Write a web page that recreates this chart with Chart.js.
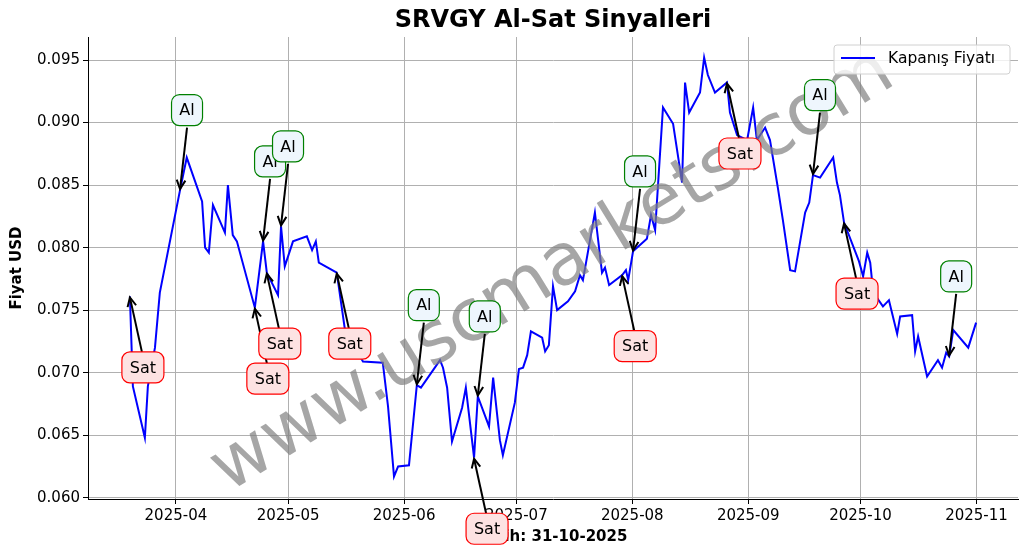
<!DOCTYPE html>
<html><head><meta charset="utf-8">
<script src="https://cdn.jsdelivr.net/npm/chart.js@4/dist/chart.umd.min.js"></script>
<style>html,body{margin:0;padding:0;background:#fff}#c{display:block}</style>
</head><body>
<canvas id="c" width="1028" height="554"></canvas>
<script>
// days since 2025-04-01
const days = [-12.3,-11.5,-8.3,-7.5,-5.6,-4.3,1.1,2.9,7.0,7.8,8.8,9.9,13.1,13.9,15.2,16.3,21.1,23.3,24.3,27.3,28.1,29.1,31.3,35.0,36.4,37.4,38.2,43.0,45.2,50.0,55.3,56.7,58.3,59.4,62.3,64.4,65.5,70.6,71.4,72.5,73.8,76.5,77.5,79.7,80.7,83.7,84.8,86.6,87.4,90.6,91.7,92.8,93.9,94.9,97.9,98.7,99.7,100.8,101.9,104.8,106.7,108.0,108.8,112.0,113.9,114.7,115.8,119.3,120.3,120.9,122.2,125.9,127.0,128.1,130.2,132.9,135.3,136.1,137.2,140.1,141.2,142.2,144.1,147.3,148.1,150.0,152.7,154.3,155.3,157.5,158.8,160.9,162.3,164.2,165.5,168.2,169.3,170.3,172.2,175.7,176.7,177.5,178.6,182.6,183.7,184.8,185.6,186.4,189.0,190.6,192.8,193.6,196.8,197.6,198.4,200.8,203.7,204.8,205.9,206.7,207.8,211.8,213.9];
const prices = [0.0761,0.0689,0.0648,0.0689,0.0720,0.0764,0.0846,0.0872,0.0837,0.0800,0.0796,0.0834,0.0812,0.0850,0.0810,0.0805,0.0752,0.0805,0.0780,0.0762,0.0817,0.0785,0.0805,0.0809,0.0798,0.0805,0.0788,0.0780,0.0734,0.0709,0.0708,0.0673,0.0617,0.0625,0.0626,0.0690,0.0688,0.0710,0.0704,0.0688,0.0645,0.0672,0.0688,0.0632,0.0681,0.0657,0.0696,0.0646,0.0634,0.0676,0.0703,0.0704,0.0714,0.0733,0.0728,0.0717,0.0722,0.0769,0.0750,0.0757,0.0765,0.0778,0.0774,0.0828,0.0780,0.0784,0.0770,0.0778,0.0782,0.0774,0.0797,0.0807,0.0826,0.0814,0.0912,0.0899,0.0852,0.0932,0.0908,0.0924,0.0952,0.0938,0.0924,0.0932,0.0908,0.0890,0.0886,0.0912,0.0886,0.0896,0.0886,0.0848,0.0821,0.0782,0.0781,0.0828,0.0836,0.0858,0.0856,0.0872,0.0852,0.0842,0.0820,0.0789,0.0777,0.0796,0.0788,0.0764,0.0753,0.0758,0.0731,0.0745,0.0746,0.0717,0.0729,0.0697,0.0710,0.0704,0.0716,0.0713,0.0734,0.0720,0.0740];
const monthTicks = [0,30,61,91,122,153,183,214];
const monthLabels = ['2025-04','2025-05','2025-06','2025-07','2025-08','2025-09','2025-10','2025-11'];
const yTicks = [0.060,0.065,0.070,0.075,0.080,0.085,0.090,0.095];
const buyDays = [1.1,23.3,28.1,64.4,80.7,122.2,170.3,206.7];
const buyPrices = [0.0846,0.0805,0.0817,0.0690,0.0681,0.0797,0.0858,0.0713];
const sellDays = [-12.3,21.1,24.3,43.0,79.7,119.3,147.3,178.6];
const sellPrices = [0.0761,0.0752,0.0780,0.0780,0.0632,0.0778,0.0932,0.0820];

function rr(ctx,x,y,w,h,r){ctx.beginPath();ctx.moveTo(x+r,y);ctx.arcTo(x+w,y,x+w,y+h,r);ctx.arcTo(x+w,y+h,x,y+h,r);ctx.arcTo(x,y+h,x,y,r);ctx.arcTo(x,y,x+w,y,r);ctx.closePath();}
function arrow(ctx,x1,y1,x2,y2){ctx.strokeStyle='#000';ctx.lineWidth=2;ctx.beginPath();ctx.moveTo(x1,y1);ctx.lineTo(x2,y2);ctx.stroke();
 const a=Math.atan2(y2-y1,x2-x1),L=10;ctx.beginPath();ctx.moveTo(x2-L*Math.cos(a-0.45),y2-L*Math.sin(a-0.45));ctx.lineTo(x2,y2);ctx.lineTo(x2-L*Math.cos(a+0.45),y2-L*Math.sin(a+0.45));ctx.stroke();}

const deco = {
 id:'deco',
 afterDatasetsDraw(chart){
  const ctx=chart.ctx, xs=chart.scales.x, ys=chart.scales.y;
  ctx.save();
  ctx.save();ctx.translate(553,272);ctx.rotate(-31.5*Math.PI/180);
  ctx.font='72px "DejaVu Sans"';ctx.fillStyle='rgba(128,128,128,0.7)';ctx.textAlign='center';ctx.textBaseline='middle';
  ctx.fillText('www.uscmarkets.com',0,0);ctx.restore();
  ctx.font='16px "DejaVu Sans"';ctx.textAlign='center';ctx.textBaseline='middle';
  const draw=(d,p,txt,dx,dy,w,fill,stroke,up)=>{
   const tx=xs.getPixelForValue(d), ty=ys.getPixelForValue(p);
   const cx=tx+dx, cy=ty+dy, h=31;
   if(up) arrow(ctx,cx-1,cy-h/2,tx,ty+1); else arrow(ctx,cx,cy+h/2+2,tx,ty-1);
   rr(ctx,cx-w/2,cy-h/2,w,h,8);ctx.fillStyle=fill;ctx.fill();ctx.lineWidth=1.2;ctx.strokeStyle=stroke;ctx.stroke();
   ctx.fillStyle='#000';ctx.fillText(txt,cx,cy+1);
  };
  buyDays.forEach((d,i)=>draw(d,buyPrices[i],'Al',7,-80,31,'#eef6fd','#008000',false));
  sellDays.forEach((d,i)=>draw(d,sellPrices[i],'Sat',13,71,42,'#fde2e2','#ff0000',true));
  rr(ctx,834,45,176,29,3);ctx.fillStyle='rgba(255,255,255,0.8)';ctx.fill();ctx.strokeStyle='#d0d0d0';ctx.lineWidth=1;ctx.stroke();
  ctx.strokeStyle='#0000ff';ctx.lineWidth=2;ctx.beginPath();ctx.moveTo(841,58);ctx.lineTo(875,58);ctx.stroke();
  ctx.fillStyle='#000';ctx.textAlign='left';ctx.font='15.5px "DejaVu Sans"';ctx.fillText('Kapanış Fiyatı',888,59);
  ctx.restore();
 },
 afterDraw(chart){
  const ctx=chart.ctx;ctx.save();ctx.fillStyle='#000';ctx.textAlign='center';ctx.textBaseline='middle';
  ctx.font='bold 24px "DejaVu Sans"';ctx.fillText('SRVGY Al-Sat Sinyalleri',553,21);
  ctx.restore();
 },
 beforeDatasetsDraw(chart){
  const ctx=chart.ctx;ctx.save();ctx.fillStyle='#000';ctx.textAlign='center';ctx.textBaseline='middle';
  ctx.font='bold 15px "DejaVu Sans"';ctx.fillText('Tarih: 31-10-2025',553,537);
  ctx.translate(17,268);ctx.rotate(-Math.PI/2);ctx.fillText('Fiyat USD',0,0);ctx.restore();
 }
};

new Chart(document.getElementById('c'),{
 type:'line',
 data:{datasets:[{data:days.map((d,i)=>({x:d,y:prices[i]})),borderColor:'#0000ff',borderWidth:2,pointRadius:0,tension:0,fill:false}]},
 options:{responsive:false,animation:false,
  layout:{padding:{left:10,right:10,top:37,bottom:0}},
  plugins:{legend:{display:false},tooltip:{enabled:false}},
  scales:{
   x:{type:'linear',min:-23.5,max:225.1,
    afterBuildTicks:s=>{s.ticks=monthTicks.map(v=>({value:v}));},
    afterFit:s=>{s.height=55;},
    ticks:{callback:(v)=>monthLabels[monthTicks.indexOf(v)],color:'#000',font:{family:'DejaVu Sans',size:15},maxRotation:0,autoSkip:false},
    grid:{color:'#b0b0b0',tickColor:'#000',tickLength:5},border:{color:'#000',width:1}},
   y:{min:0.0599,max:0.09684,
    afterBuildTicks:s=>{s.ticks=yTicks.map(v=>({value:v}));},
    afterFit:s=>{s.width=78;},
    ticks:{callback:v=>v.toFixed(3),color:'#000',font:{family:'DejaVu Sans',size:15}},
    grid:{color:'#b0b0b0',tickColor:'#000',tickLength:5},border:{color:'#000',width:1}}
  }},
 plugins:[deco]
});
</script>
</body></html>
